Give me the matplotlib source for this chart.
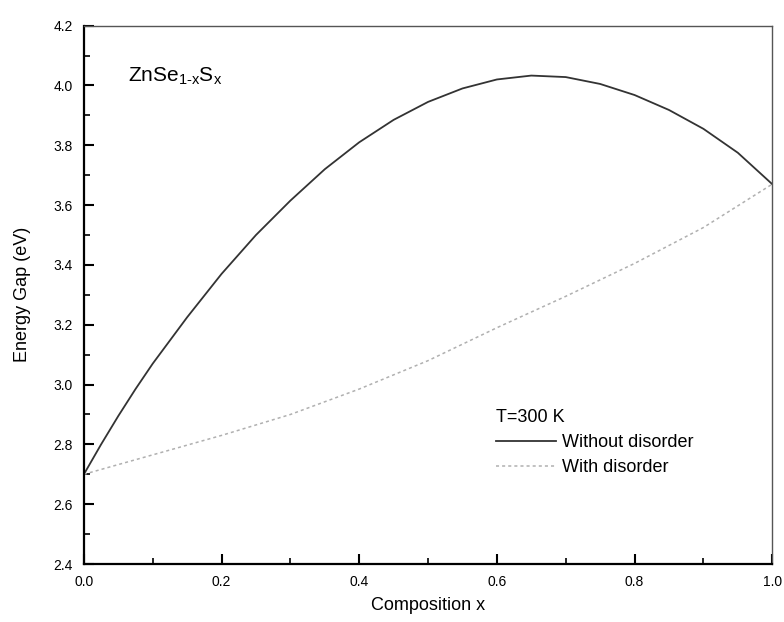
import numpy as np
import matplotlib
matplotlib.use('Agg')
import matplotlib.pyplot as plt
from matplotlib.ticker import MultipleLocator

plt.rcParams['font.family'] = ['Liberation Sans', 'DejaVu Sans']
plt.rcParams['mathtext.fontset'] = 'custom'
plt.rcParams['mathtext.rm'] = 'Liberation Sans'
plt.rcParams['mathtext.it'] = 'Liberation Sans'

# composition and energy gaps
x = [0.0, 0.025, 0.05, 0.075, 0.1, 0.15, 0.2, 0.25, 0.3, 0.35, 0.4, 0.45, 0.5,
     0.55, 0.6, 0.65, 0.7, 0.75, 0.8, 0.85, 0.9, 0.95, 1.0]
gap_no_disorder = [2.70, 2.80, 2.895, 2.985, 3.07, 3.225, 3.37, 3.50, 3.615, 3.72, 3.81,
                   3.885, 3.945, 3.99, 4.02, 4.033, 4.028, 4.005, 3.968, 3.918, 3.855,
                   3.775, 3.67]
x_dis = [0.0, 0.1, 0.2, 0.3, 0.4, 0.5, 0.6, 0.7, 0.8, 0.9, 1.0]
gap_disorder = [2.70, 2.765, 2.83, 2.90, 2.985, 3.08, 3.19, 3.295, 3.405, 3.525, 3.67]

fig = plt.figure(figsize=(7.84, 6.22), dpi=100)
ax = fig.add_axes([0.107, 0.0932, 0.878, 0.8656])

ax.plot(x, gap_no_disorder, color='#333333', lw=1.3, label='Without disorder')
ax.plot(x_dis, gap_disorder, color='#b0b0b0', lw=1.1, ls=(0, (2, 2)), label='With disorder')

ax.set_xlim(0, 1.0)
ax.set_ylim(2.4, 4.2)
ax.xaxis.set_major_locator(MultipleLocator(0.2))
ax.xaxis.set_minor_locator(MultipleLocator(0.1))
ax.yaxis.set_major_locator(MultipleLocator(0.2))
ax.yaxis.set_minor_locator(MultipleLocator(0.1))
ax.tick_params(which='both', direction='in', top=False, right=False)
ax.tick_params(which='major', length=7, width=1.5, labelsize=10, pad=8)
ax.tick_params(which='minor', length=4, width=1.2)
ax.xaxis.set_major_formatter(plt.FormatStrFormatter('%.1f'))
ax.yaxis.set_major_formatter(plt.FormatStrFormatter('%.1f'))

for s in ['left', 'bottom']:
    ax.spines[s].set_linewidth(1.6)
for s in ['top', 'right']:
    ax.spines[s].set_linewidth(1.0)
    ax.spines[s].set_color('#555555')

ax.set_xlabel('Composition x', fontsize=13, labelpad=6)
ax.set_ylabel('Energy Gap (eV)', fontsize=13, labelpad=16)

ax.text(0.064, 0.905, r'ZnSe$_{\mathrm{1\text{-}x}}$S$_{\mathrm{x}}$', transform=ax.transAxes,
        fontsize=15, va='center', ha='left')

leg = ax.legend(title='T=300 K', loc='upper left', bbox_to_anchor=(0.586, 0.305),
                frameon=False, fontsize=13, title_fontsize=13, borderpad=0,
                handlelength=3.3, handletextpad=0.35, labelspacing=0.45)
leg._legend_box.align = 'left'

fig.savefig('out.png', dpi=100)
